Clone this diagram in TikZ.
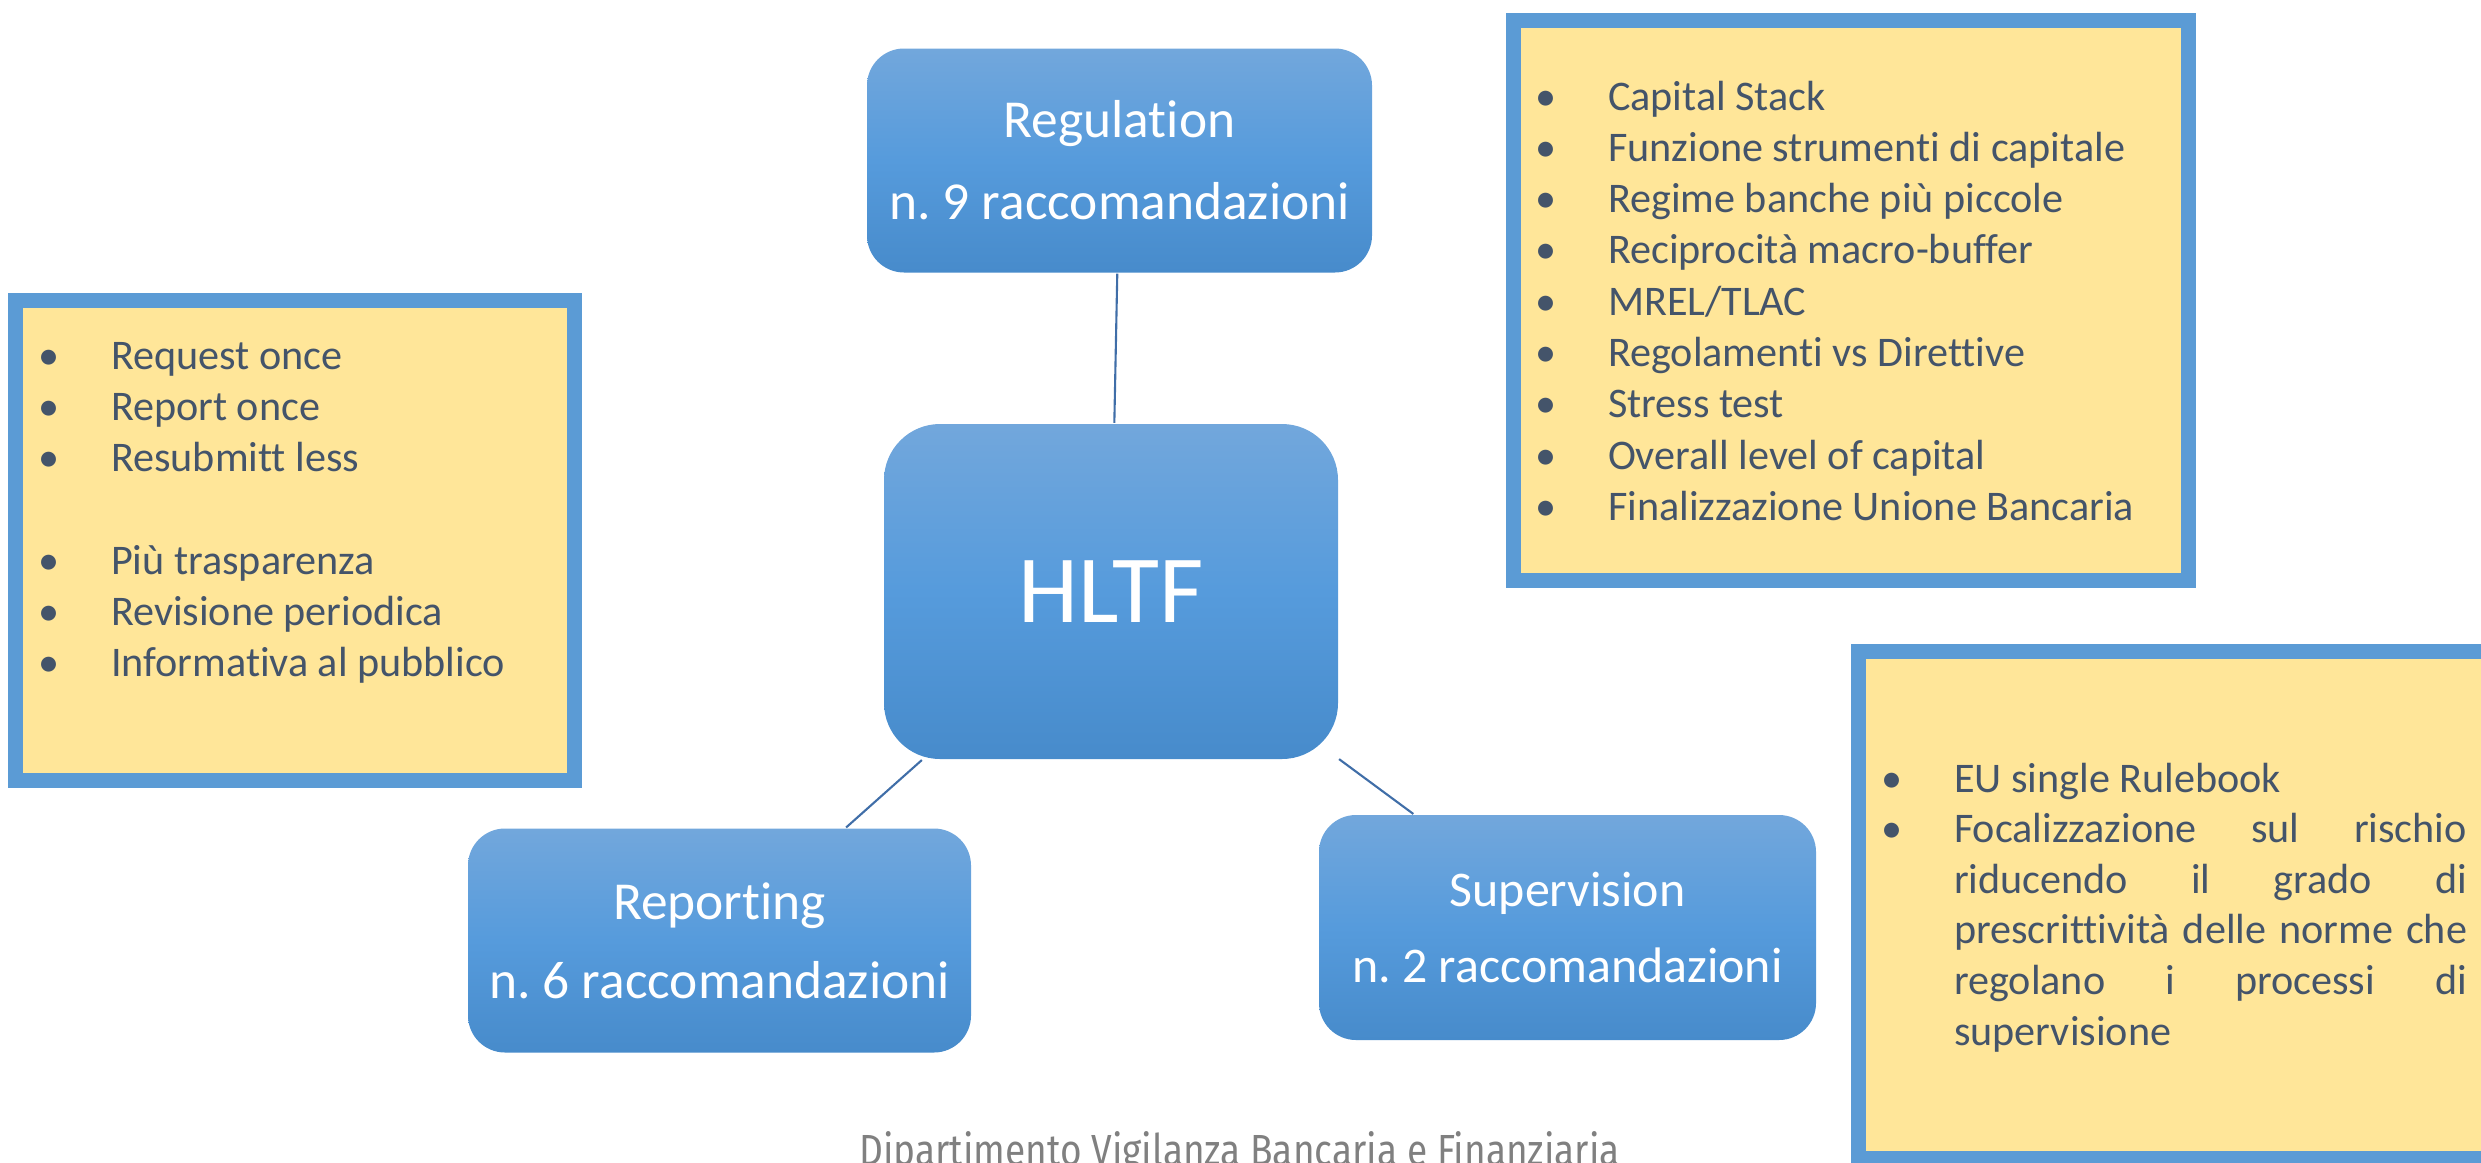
\documentclass[tikz,border=0pt]{standalone}
\usepackage{fontspec}
\usepackage{graphicx}
\setmainfont{Carlito}[Ligatures = NoCommon]
\newfontfamily\footfont{Fira Sans}
\frenchspacing

\definecolor{boxtop}{RGB}{114,167,220}
\definecolor{boxmid}{RGB}{86,155,220}
\definecolor{boxbot}{RGB}{71,139,203}
\definecolor{frameblue}{RGB}{91,155,213}
\definecolor{noteyellow}{RGB}{255,230,153}
\definecolor{notetext}{RGB}{68,84,106}
\definecolor{linkblue}{RGB}{64,110,168}
\definecolor{footgray}{RGB}{128,128,128}

% bullet line and continuation line of the lists
\newcommand{\bul}[1]{\spaceskip=0pt\xspaceskip=0pt\makebox[0.73cm][l]{•}#1}
\newcommand{\cnt}[1]{\spaceskip=0pt\xspaceskip=0pt\hspace*{0.73cm}#1}

\begin{document}
\begin{tikzpicture}[x = 0.1mm, y = -0.1mm, % one unit is one pixel, y going down
                inner sep = 0pt, % text sits right on the box
                semithick % line style
            ]

            \useasboundingbox (0,0) rectangle (2481,1162);

            \tikzstyle{topic}=[rounded corners = 0.37cm, top color = boxtop,
            bottom color = boxbot, middle color = boxmid, text = white,
            align = center, minimum width = 5.02cm, minimum height = 2.24cm]
            \tikzstyle{note}=[draw = frameblue, line width = 0.15cm, fill = noteyellow]
            \tikzstyle{list}=[anchor = base west, align = left, text width = 8cm,
            text = notetext, font = \fontsize{12}{14.6}\selectfont]
            \tikzstyle{link}=[draw = linkblue, line width = 0.6pt]

            % the three lists
            \node[note, minimum width = 5.59cm, minimum height = 4.80cm] (leftnote) at (295,540.5) {};
            \node[note, minimum width = 6.75cm, minimum height = 5.60cm] (topnote) at (1851,300.5) {};
            \node[note, minimum width = 6.35cm, minimum height = 5.07cm] (rightnote) at (2176,905) {};

            \node[list] (leftlist) at (37,369)
            {\bul{Request once}\\ \bul{Report once}\\ \bul{Resubmitt less}\\[14.6pt]
            \bul{Più trasparenza}\\ \bul{Revisione periodica}\\
            \bul{Informativa al pubblico}};
            \node[list] (toplist) at (1534,110) {\bul{Capital Stack}\\
            \bul{Funzione strumenti di capitale}\\ \bul{Regime banche più
            piccole}\\ \bul{Reciprocità macro-buffer}\\ \bul{MREL/TLAC}\\
            \bul{Regolamenti vs Direttive}\\ \bul{Stress test}\\ \bul{Overall
            level of capital}\\ \bul{Finalizzazione Unione Bancaria}};
            \node[list, font = \fontsize{12}{14.4}\selectfont] (rightlist) at (1880,792)
            {\bul{EU single Rulebook}\\
            \bul{\makebox[5.13cm][s]{Focalizzazione sul rischio}}\\
            \cnt{\makebox[5.13cm][s]{riducendo il grado di}}\\
            \cnt{\makebox[5.13cm][s]{prescrittività delle norme che}}\\
            \cnt{\makebox[5.13cm][s]{regolano i processi di}}\\
            \cnt{supervisione}};

            % the map
            \node[topic, rounded corners = 0.56cm, minimum width = 4.54cm,
            minimum height = 3.35cm, font = \fontsize{27.4}{32}\selectfont]
            (hltf) at (1111,591.5) {HLTF};
            \node[topic, minimum width = 5.05cm, font = \fontsize{15.2}{23.3}\selectfont]
            (reg) at (1119.5,160.5) {Regulation\\ n. 9 raccomandazioni};
            \node[topic, minimum width = 5.03cm, font = \fontsize{15.2}{22.5}\selectfont]
            (rep) at (719.5,940.5) {Reporting\\ n. 6 raccomandazioni};
            \node[topic, minimum width = 4.97cm, minimum height = 2.25cm,
            font = \fontsize{14.2}{21.6}\selectfont]
            (sup) at (1567.5,927.5) {Supervision\\ n. 2 raccomandazioni};

            \path[link] (reg) edge (hltf); \path[link] (hltf) edge (rep);
            \path[link] (hltf) edge (sup);

            \node[text = footgray, anchor = base, font = \footfont\fontsize{12.4}{14}\selectfont]
            (dept) at (1239.5,1165) {\scalebox{0.85}[1]{Dipartimento Vigilanza
            Bancaria e Finanziaria}};
\end{tikzpicture}
\end{document}
